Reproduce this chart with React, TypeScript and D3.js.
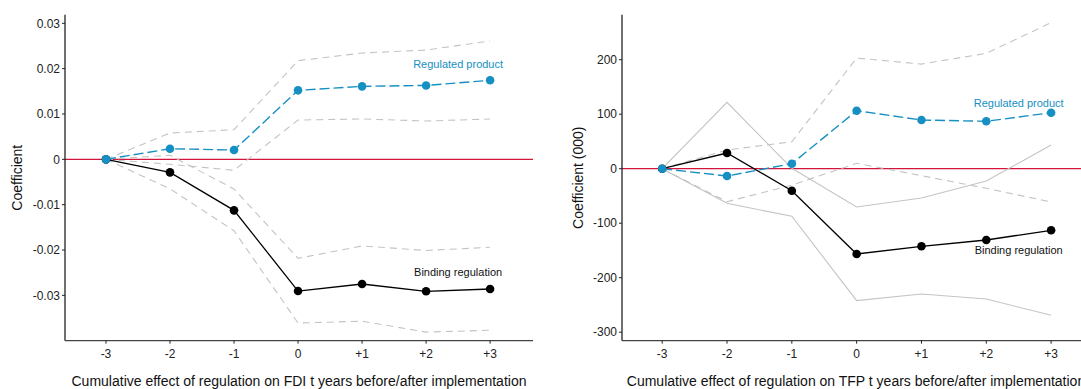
import React from "react";
import * as d3 from "d3";

const periods = [-3, -2, -1, 0, 1, 2, 3];
const periodLabels = ["-3", "-2", "-1", "0", "+1", "+2", "+3"];

// FDI panel
const fdiRegulated = [0, 0.00234, 0.00205, 0.01522, 0.0161, 0.0163, 0.01743];
const fdiRegulatedHi = [0, 0.0058, 0.00653, 0.02175, 0.02345, 0.0241, 0.0261];
const fdiRegulatedLo = [0, -0.0011, -0.0024, 0.00867, 0.0089, 0.00845, 0.0089];
const fdiBinding = [0, -0.00287, -0.01125, -0.02905, -0.0275, -0.0291, -0.0286];
const fdiBindingHi = [0, 0.0009, -0.00655, -0.02184, -0.0191, -0.0201, -0.0194];
const fdiBindingLo = [0, -0.0065, -0.01575, -0.0361, -0.0357, -0.0381, -0.0377];
const fdiTicks = [0.03, 0.02, 0.01, 0, -0.01, -0.02, -0.03];
const fdiTickLabels = ["0.03", "0.02", "0.01", "0", "-0.01", "-0.02", "-0.03"];

// TFP panel
const tfpRegulated = [0, -13.4, 9.2, 106.4, 89.4, 87, 102.8];
const tfpRegulatedHi = [0, 34.3, 49.5, 203, 192, 211.7, 268];
const tfpRegulatedLo = [0, -60.5, -30, 9.9, -12.8, -36, -61];
const tfpBinding = [0, 28.8, -40.4, -156.5, -142.4, -130.8, -113];
const tfpBindingHi = [0, 121.8, 0.7, -70.3, -53.8, -22.6, 43.5];
const tfpBindingLo = [0, -63.5, -87.3, -242, -230, -239, -269];
const tfpTicks = [200, 100, 0, -100, -200, -300];
const tfpTickLabels = ["200", "100", "0", "-100", "-200", "-300"];

const BLUE = "#1690c2";
const RED = "#d4163f";
const GRAY = "#c4c4c4";
const FONT = "'Liberation Sans', Arial, sans-serif";

type PanelProps = {
  left: number;
  titleOffset: number;
  xDomain: [number, number];
  yDomain: [number, number];
  yTicks: number[];
  yTickLabels: string[];
  regulated: number[];
  regulatedHi: number[];
  regulatedLo: number[];
  binding: number[];
  bindingHi: number[];
  bindingLo: number[];
  bindingCISolid: boolean;
  yTitle: string;
  xTitle: string;
  regLabelY: number;
  bindLabelY: number;
};

function Panel(p: PanelProps) {
  const top = 14.7;
  const bottom = 340.7;
  const width = 468;
  const x = d3.scaleLinear().domain(p.xDomain).range([p.left, p.left + width]);
  const y = d3.scaleLinear().domain(p.yDomain).range([bottom, top]);
  const line = d3
    .line<number>()
    .x((_, i) => x(periods[i]))
    .y((d) => y(d));
  const labelX = x(2.5);
  return (
    <g>
      {/* zero line */}
      <line x1={p.left} x2={p.left + width} y1={y(0)} y2={y(0)} stroke={RED} strokeWidth={1.3} />
      {/* CIs */}
      <path d={line(p.regulatedHi) || ""} fill="none" stroke={GRAY} strokeWidth={1.1} strokeDasharray="7,5" />
      <path d={line(p.regulatedLo) || ""} fill="none" stroke={GRAY} strokeWidth={1.1} strokeDasharray="7,5" />
      <path d={line(p.bindingHi) || ""} fill="none" stroke={GRAY} strokeWidth={1.1} strokeDasharray={p.bindingCISolid ? undefined : "7,5"} />
      <path d={line(p.bindingLo) || ""} fill="none" stroke={GRAY} strokeWidth={1.1} strokeDasharray={p.bindingCISolid ? undefined : "7,5"} />
      {/* series */}
      <path d={line(p.binding) || ""} fill="none" stroke="#000" strokeWidth={1.3} />
      {p.binding.map((v, i) => (
        <circle key={"b" + i} cx={x(periods[i])} cy={y(v)} r={4.3} fill="#000" />
      ))}
      <path d={line(p.regulated) || ""} fill="none" stroke={BLUE} strokeWidth={1.4} strokeDasharray="10,4" />
      {p.regulated.map((v, i) => (
        <circle key={"r" + i} cx={x(periods[i])} cy={y(v)} r={4.3} fill={BLUE} />
      ))}
      {/* labels */}
      <text x={labelX} y={y(p.regLabelY)} textAnchor="middle" fontSize={11} fill={BLUE} fontFamily={FONT}>
        Regulated product
      </text>
      <text x={labelX} y={y(p.bindLabelY)} textAnchor="middle" fontSize={11} fill="#111" fontFamily={FONT}>
        Binding regulation
      </text>
      {/* axes */}
      <line x1={p.left} x2={p.left} y1={top} y2={bottom} stroke="#222" strokeWidth={1.3} />
      <line x1={p.left} x2={p.left + width} y1={bottom} y2={bottom} stroke="#444" strokeWidth={1.3} />
      {p.yTicks.map((t, i) => (
        <g key={"yt" + i}>
          <line x1={p.left - 3} x2={p.left} y1={y(t)} y2={y(t)} stroke="#222" strokeWidth={1} />
          <text x={p.left - 5} y={y(t)} dy="0.35em" textAnchor="end" fontSize={12} fill="#222" fontFamily={FONT}>
            {p.yTickLabels[i]}
          </text>
        </g>
      ))}
      {periods.map((t, i) => (
        <g key={"xt" + i}>
          <line x1={x(t)} x2={x(t)} y1={bottom} y2={bottom + 3} stroke="#222" strokeWidth={1} />
          <text x={x(t)} y={bottom + 13} dy="0.35em" textAnchor="middle" fontSize={12} fill="#222" fontFamily={FONT}>
            {periodLabels[i]}
          </text>
        </g>
      ))}
      <text
        transform={`translate(${p.left - p.titleOffset},${(top + bottom) / 2}) rotate(-90)`}
        textAnchor="middle"
        fontSize={14}
        fill="#111"
        fontFamily={FONT}
      >
        {p.yTitle}
      </text>
      <text x={p.left + width / 2} y={386} textAnchor="middle" fontSize={14} fill="#111" fontFamily={FONT}>
        {p.xTitle}
      </text>
    </g>
  );
}

export default function App() {
  return (
    <svg
      width={1081}
      height={389}
      style={{ position: "absolute", left: 0, top: 0, background: "#fff" }}
    >
      <rect width={1081} height={389} fill="#fff" />
      <Panel
        left={65}
        titleOffset={43}
        xDomain={[-3.64, 3.67]}
        yDomain={[-0.04, 0.0319]}
        yTicks={fdiTicks}
        yTickLabels={fdiTickLabels}
        regulated={fdiRegulated}
        regulatedHi={fdiRegulatedHi}
        regulatedLo={fdiRegulatedLo}
        binding={fdiBinding}
        bindingHi={fdiBindingHi}
        bindingLo={fdiBindingLo}
        bindingCISolid={false}
        yTitle="Coefficient"
        xTitle="Cumulative effect of regulation on FDI t years before/after implementation"
        regLabelY={0.0202}
        bindLabelY={-0.0257}
      />
      <Panel
        left={622}
        titleOffset={39}
        xDomain={[-3.62, 3.6]}
        yDomain={[-315.6, 282.6]}
        yTicks={tfpTicks}
        yTickLabels={tfpTickLabels}
        regulated={tfpRegulated}
        regulatedHi={tfpRegulatedHi}
        regulatedLo={tfpRegulatedLo}
        binding={tfpBinding}
        bindingHi={tfpBindingHi}
        bindingLo={tfpBindingLo}
        bindingCISolid={true}
        yTitle="Coefficient (000)"
        xTitle="Cumulative effect of regulation on TFP t years before/after implementation"
        regLabelY={113}
        bindLabelY={-156.5}
      />
    </svg>
  );
}
